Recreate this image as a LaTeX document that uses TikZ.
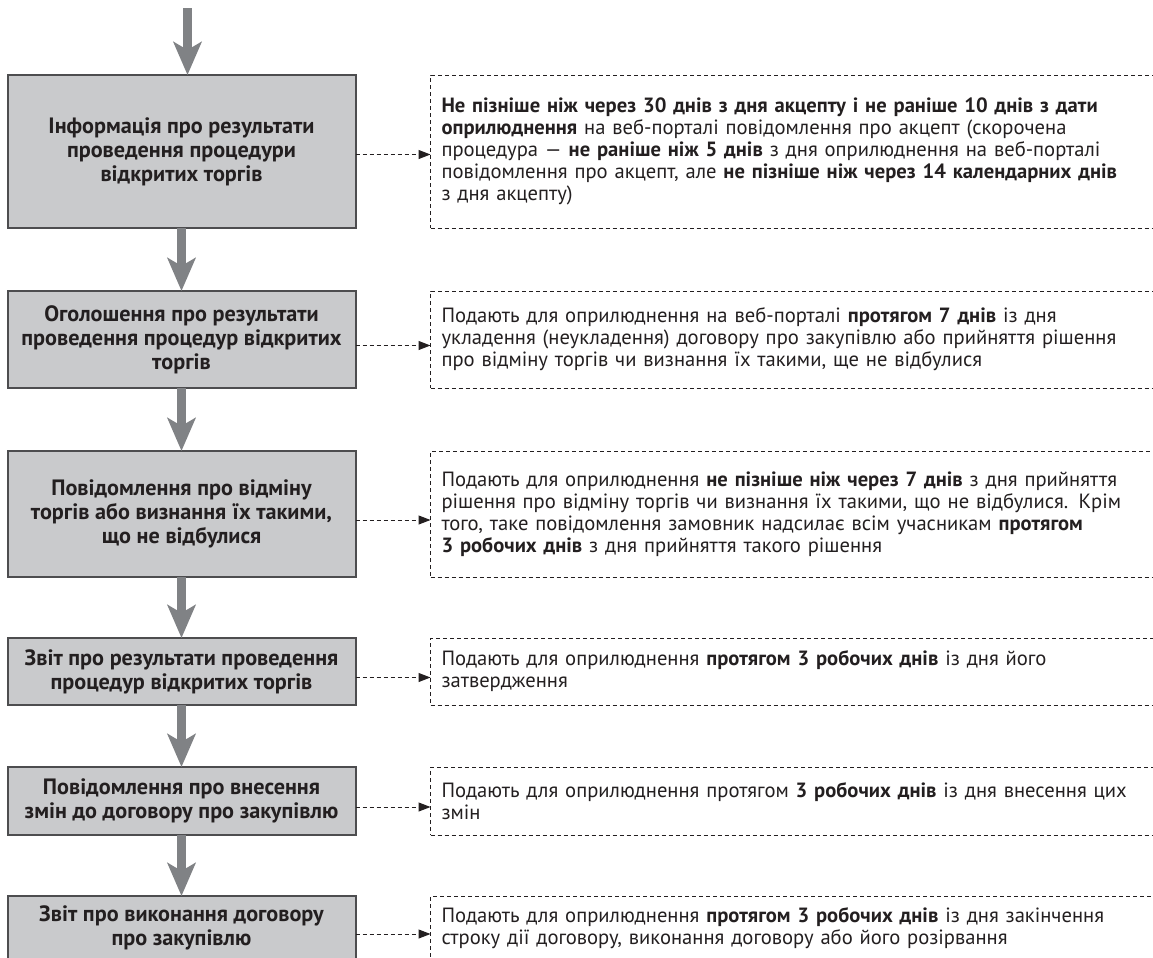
\documentclass[tikz,border=0pt]{standalone}
\usepackage{fontspec}
\setmainfont{PT Sans}
\usetikzlibrary{positioning,arrows.meta}
\definecolor{boxfill}{HTML}{C9CACC}
\definecolor{boxedge}{HTML}{4D4D4F}
\definecolor{flow}{HTML}{808285}
\definecolor{ink}{HTML}{231F20}

\begin{document}
\begin{tikzpicture}[x=0.5pt, y=-0.5pt,
  stage/.style={draw=boxedge, line width=1pt, fill=boxfill, text=ink,
                font=\bfseries\fontsize{11.1}{12}\selectfont, align=center,
                minimum width=174pt, inner sep=0pt, outer sep=0pt},
  term/.style={draw=ink, line width=0.5pt, dash pattern=on 2pt off 1.5pt, text=ink,
               font=\fontsize{10.3}{11}\selectfont, align=left, text width=356pt,
               inner xsep=5.5pt, inner ysep=0pt, outer sep=0pt},
  flowarrow/.style={draw=flow, line width=4.5pt, -{Stealth[length=16.5pt, width=14pt, inset=4pt]}},
  link/.style={draw=ink, line width=0.5pt, dash pattern=on 2pt off 1.5pt,
               -{Triangle[length=6pt, width=4.5pt]}}
]
\useasboundingbox (0,0) rectangle (1153,958);
\clip (0,0) rectangle (1153,958);

% stages
\node[stage, minimum height=76.5pt] (info) at (181.5,151.5)
  {Інформація про результати\\проведення процедури\\відкритих торгів};
\node[stage, minimum height=48.5pt, below=31.5pt of info] (notice)
  {Оголошення про результати\\проведення процедур відкритих\\торгів};
\node[stage, minimum height=63pt, below=31.5pt of notice] (cancel)
  {Повідомлення про відміну\\торгів або визнання їх такими,\\що не відбулися};
\node[stage, minimum height=33.5pt, below=30.5pt of cancel] (report)
  {Звіт про результати проведення\\процедур відкритих торгів};
\node[stage, minimum height=34pt, below=31pt of report] (change)
  {Повідомлення про внесення\\змін до договору про закупівлю};
\node[stage, minimum height=32pt, below=30.5pt of change] (done)
  {Звіт про виконання договору\\про закупівлю};

% deadlines
\node[term, minimum height=76.5pt, right=37.5pt of info] (infonote)
  {\textbf{Не пізніше ніж через 30 днів з дня акцепту і не раніше 10 днів з дати}\\
   \textbf{оприлюднення} на веб-порталі повідомлення про акцепт (скорочена\\
   процедура~--- \textbf{не раніше ніж 5 днів} з дня оприлюднення на веб-порталі\\
   повідомлення про акцепт, але \textbf{не пізніше ніж через 14 календарних днів}\\
   з дня акцепту)};
\node[term, minimum height=48.5pt, right=37.5pt of notice] (noticenote)
  {Подають для оприлюднення на веб-порталі \textbf{протягом 7 днів} із дня\\
   укладення (неукладення) договору про закупівлю або прийняття рішення\\
   про відміну торгів чи визнання їх такими, ще не відбулися};
\node[term, minimum height=63pt, right=37.5pt of cancel] (cancelnote)
  {Подають для оприлюднення \textbf{не пізніше ніж через 7 днів} з дня прийняття\\
   рішення про відміну торгів чи визнання їх такими, що не відбулися. Крім\\
   того, таке повідомлення замовник надсилає всім учасникам \textbf{протягом}\\
   \textbf{3 робочих днів} з дня прийняття такого рішення};
\node[term, minimum height=33.5pt, right=37.5pt of report] (reportnote)
  {Подають для оприлюднення \textbf{протягом 3 робочих днів} із дня його\\
   затвердження};
\node[term, minimum height=34pt, right=37.5pt of change] (changenote)
  {Подають для оприлюднення протягом \textbf{3 робочих днів} із дня внесення цих\\
   змін};
\node[term, minimum height=32pt, right=37.5pt of done] (donenote)
  {Подають для оприлюднення \textbf{протягом 3 робочих днів} із дня закінчення\\
   строку дії договору, виконання договору або його розірвання};

% flow
\coordinate[above=33.5pt of info.north, xshift=3pt] (entry);
\draw[flowarrow] (entry) -- ([xshift=3pt]info.north);
\draw[flowarrow] (info) -- (notice);
\draw[flowarrow] (notice) -- (cancel);
\draw[flowarrow] (cancel) -- (report);
\draw[flowarrow] (report) -- (change);
\draw[flowarrow] (change) -- (done);

\draw[link] ([yshift=-1.5pt]info.east) -- ([yshift=-1.5pt]infonote.west);
\draw[link] ([yshift=-3pt]notice.east) -- ([yshift=-3pt]noticenote.west);
\draw[link] ([yshift=-3pt]cancel.east) -- ([yshift=-3pt]cancelnote.west);
\draw[link] ([yshift=-3pt]report.east) -- ([yshift=-3pt]reportnote.west);
\draw[link] ([yshift=-3pt]change.east) -- ([yshift=-3pt]changenote.west);
\draw[link] ([yshift=-3pt]done.east) -- ([yshift=-3pt]donenote.west);

\end{tikzpicture}
\end{document}
